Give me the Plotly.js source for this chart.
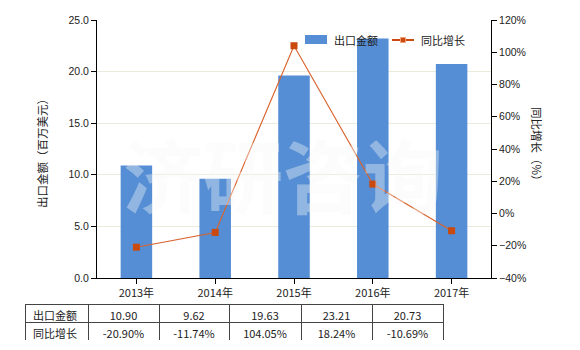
<!DOCTYPE html>
<html>
<head>
<meta charset="utf-8">
<script src="https://cdn.plot.ly/plotly-3.0.1.min.js"></script>
<style>html,body{margin:0;padding:0;background:#fff;}#chart{width:580px;height:350px;}</style>
</head>
<body>
<div id="chart"></div>
<script>
var years = ['2013年', '2014年', '2015年', '2016年', '2017年'];
var exportValue = [10.90, 9.62, 19.63, 23.21, 20.73];
var yoyGrowth = [-20.90, -11.74, 104.05, 18.24, -10.69];
var seriesNames = ['出口金额', '同比增长'];
var exportLabels = ['10.90', '9.62', '19.63', '23.21', '20.73'];
var growthLabels = ['-20.90%', '-11.74%', '104.05%', '18.24%', '-10.69%'];

var FONT = 'Liberation Sans, Arial, "Noto Sans CJK SC", sans-serif';
var CJK = '"Noto Sans CJK SC", "Liberation Sans", sans-serif';
var BAR_COLOR = '#558ED5';
var LINE_COLOR = '#D9622B';
var MARKER_COLOR = '#C9490F';

var bars = {
  type: 'bar', x: years, y: exportValue, name: seriesNames[0],
  marker: {color: BAR_COLOR}, yaxis: 'y', xaxis: 'x', showlegend: false
};
var line = {
  type: 'scatter', mode: 'lines+markers', x: years, y: yoyGrowth, name: seriesNames[1],
  line: {color: LINE_COLOR, width: 1.1},
  marker: {symbol: 'square', size: 7, color: MARKER_COLOR},
  yaxis: 'y2', xaxis: 'x', showlegend: false
};

var headerVals = [[seriesNames[0]]].concat(exportLabels.map(function(v){return [v];}));
var cellVals = [[seriesNames[1]]].concat(growthLabels.map(function(v){return [v];}));
var table = {
  type: 'table',
  domain: {x: [25/580, 443/580], y: [1 - 340/350, 1 - 304/350]},
  columnwidth: [63, 71, 70, 72, 71, 71],
  header: {
    values: headerVals,
    align: ['left', 'center', 'center', 'center', 'center', 'center'],
    height: 18,
    line: {color: '#444', width: 1},
    fill: {color: '#fff'},
    font: {family: CJK, size: 11, color: '#222'}
  },
  cells: {
    values: cellVals,
    align: ['left', 'center', 'center', 'center', 'center', 'center'],
    height: 18,
    line: {color: '#444', width: 1},
    fill: {color: '#fff'},
    font: {family: CJK, size: 11, color: '#222'}
  }
};

// legend drawn manually (wide bar swatch like the reference)
var legendShapes = [
  {type: 'rect', xref: 'paper', yref: 'paper', x0: 305/580, x1: 327/580, y0: 1 - 44/350, y1: 1 - 35/350,
   fillcolor: BAR_COLOR, line: {width: 0}},
  {type: 'line', xref: 'paper', yref: 'paper', x0: 392/580, x1: 414/580, y0: 1 - 40/350, y1: 1 - 40/350,
   line: {color: MARKER_COLOR, width: 2}},
  {type: 'rect', xref: 'paper', yref: 'paper', x0: 400.5/580, x1: 405.5/580, y0: 1 - 42.5/350, y1: 1 - 37.5/350,
   fillcolor: MARKER_COLOR, line: {color: '#F0A070', width: 1}}
];

var layout = {
  width: 580, height: 350,
  margin: {l: 0, r: 0, t: 0, b: 0},
  paper_bgcolor: '#fff', plot_bgcolor: '#fff',
  font: {family: FONT, size: 10.5, color: '#222'},
  showlegend: false,
  bargap: 0.6,
  xaxis: {
    domain: [97/580, 491/580], type: 'category',
    showline: true, linecolor: '#000', linewidth: 1,
    ticks: 'outside', ticklen: 5, tickcolor: '#000',
    showgrid: false, zeroline: false,
    tickfont: {family: CJK, size: 11, color: '#222'}
  },
  yaxis: {
    domain: [1 - 278/350, 1 - 20/350],
    range: [0, 25], dtick: 5, tickformat: '.1f',
    showline: true, linecolor: '#000', linewidth: 1,
    ticks: 'outside', ticklen: 5, tickcolor: '#000',
    showgrid: true, gridcolor: '#ECEADB', gridwidth: 1, zeroline: false,
    tickfont: {size: 10.5, color: '#222'}
  },
  yaxis2: {
    overlaying: 'y', side: 'right', anchor: 'x',
    range: [-40, 120], dtick: 20, ticksuffix: '%',
    showline: true, linecolor: '#000', linewidth: 1,
    ticks: 'outside', ticklen: 5, tickcolor: '#000',
    showgrid: false, zeroline: false,
    tickfont: {size: 10.5, color: '#222'}
  },
  shapes: legendShapes,
  annotations: [
    {text: seriesNames[0], xref: 'paper', yref: 'paper', x: 332/580, y: 1 - 40/350, xanchor: 'left', yanchor: 'middle',
     showarrow: false, font: {family: CJK, size: 11, color: '#222'}},
    {text: seriesNames[1], xref: 'paper', yref: 'paper', x: 419/580, y: 1 - 40/350, xanchor: 'left', yanchor: 'middle',
     showarrow: false, font: {family: CJK, size: 11, color: '#222'}},
    {text: '出口金额（百万美元）', xref: 'paper', yref: 'paper', x: 32/580, y: 1 - 151/350,
     textangle: -90, showarrow: false, font: {family: CJK, size: 11.5, color: '#222'}},
    {text: '同比增长（%）', xref: 'paper', yref: 'paper', x: 547/580, y: 1 - 147/350,
     textangle: 90, showarrow: false, font: {family: CJK, size: 11.5, color: '#222'}},
    {text: '济研咨询', xref: 'paper', yref: 'paper', x: 283/580, y: 1 - 172/350, yanchor: 'middle',
     showarrow: false, font: {family: CJK, size: 80, color: 'rgba(246,246,246,0.38)', weight: 'bold'}}
  ]
};

Plotly.newPlot('chart', [bars, line, table], layout, {displayModeBar: false, staticPlot: true});
</script>
</body>
</html>
